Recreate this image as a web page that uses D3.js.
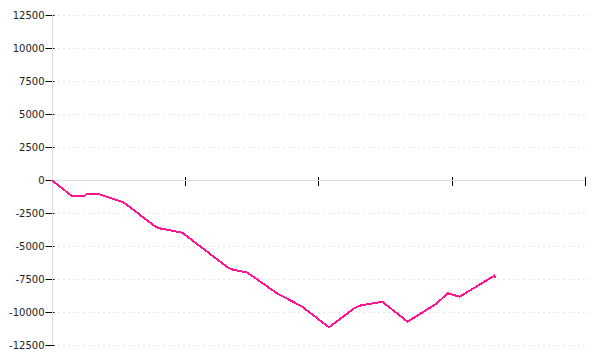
<!DOCTYPE html>
<head>
  <meta charset="utf-8" />
  <script src="https://d3js.org/d3.v7.min.js"></script>
  <style>
    body {
      margin: 0;
      background: #fff;
    }
    svg {
      display: block;
    }
    .tick-label {
      font-family: "DejaVu Sans", sans-serif;
      font-size: 10px;
      fill: #222;
    }
  </style>
</head>

<body>
  <svg width="600" height="360"></svg>

  <script>
    // data (x = day index, y = cumulative value)
    var days = [0, 15, 25, 26, 36, 54, 78, 81, 98, 132, 135, 147, 169, 188, 208, 227, 231, 248, 267, 289, 297, 306, 332, 333];
    var values = [0, -1190, -1190, -1085, -1085, -1690, -3540, -3660, -3990, -6610, -6765, -7020, -8580, -9600, -11160, -9720, -9520, -9220, -10735, -9340, -8580, -8840, -7250, -7450];
    var yTicks = [-12500, -10000, -7500, -5000, -2500, 0, 2500, 5000, 7500, 10000, 12500];
    var xTicks = [0, 100, 200, 300, 400];

    // plot edges (note: "top" is reserved on window, so use other names)
    var plotLeft = 51.5, plotRight = 585, plotTop = 15, plotBottom = 345;

    var svg = d3.select("svg");

    var x = d3.scaleLinear().domain([0, 400]).range([plotLeft, plotRight]);
    var y = d3.scaleLinear().domain([-12500, 12500]).range([plotBottom, plotTop]);

    var points = days.map(function (d, i) {
      return { day: d, value: values[i] };
    });

    // dashed grid lines
    svg.append("g")
      .selectAll("line")
      .data(yTicks.filter(function (t) { return t !== 0; }))
      .enter()
      .append("line")
      .attr("x1", plotLeft + 6.5)
      .attr("x2", plotRight)
      .attr("y1", function (d) { return Math.round(y(d)) + 0.5; })
      .attr("y2", function (d) { return Math.round(y(d)) + 0.5; })
      .attr("stroke", "#e6e6e6")
      .attr("stroke-dasharray", "2,3");

    // y axis ticks + labels
    var yAxis = svg.append("g");
    yAxis.selectAll("line")
      .data(yTicks)
      .enter()
      .append("line")
      .attr("x1", plotLeft - 6)
      .attr("x2", plotLeft + 3)
      .attr("y1", function (d) { return Math.round(y(d)) + 0.5; })
      .attr("y2", function (d) { return Math.round(y(d)) + 0.5; })
      .attr("stroke", "#000");
    yAxis.selectAll("text")
      .data(yTicks)
      .enter()
      .append("text")
      .attr("class", "tick-label")
      .attr("x", plotLeft - 7)
      .attr("y", function (d) { return Math.round(y(d)) + 0.5; })
      .attr("dy", "0.35em")
      .attr("text-anchor", "end")
      .text(function (d) { return d; });

    // x axis ticks (no labels)
    svg.append("g")
      .selectAll("line")
      .data(xTicks)
      .enter()
      .append("line")
      .attr("x1", function (d) { return Math.round(x(d)) + 0.5; })
      .attr("x2", function (d) { return Math.round(x(d)) + 0.5; })
      .attr("y1", y(0) - 3)
      .attr("y2", y(0) + 6)
      .attr("stroke", "#000");

    // domain lines
    svg.append("line")
      .attr("x1", Math.round(plotLeft) + 0.5)
      .attr("x2", Math.round(plotLeft) + 0.5)
      .attr("y1", plotTop)
      .attr("y2", plotBottom)
      .attr("stroke", "#ddd");
    svg.append("line")
      .attr("x1", plotLeft)
      .attr("x2", plotRight)
      .attr("y1", Math.round(y(0)) + 0.5)
      .attr("y2", Math.round(y(0)) + 0.5)
      .attr("stroke", "#ddd");

    var line = d3.line()
      .x(function (d) { return x(d.day); })
      .y(function (d) { return y(d.value); });

    svg.append("path")
      .datum(points)
      .attr("d", line)
      .attr("fill", "none")
      .attr("stroke", "#ff1493")
      .attr("stroke-width", 2)
      .attr("shape-rendering", "crispEdges");
  </script>
</body>
